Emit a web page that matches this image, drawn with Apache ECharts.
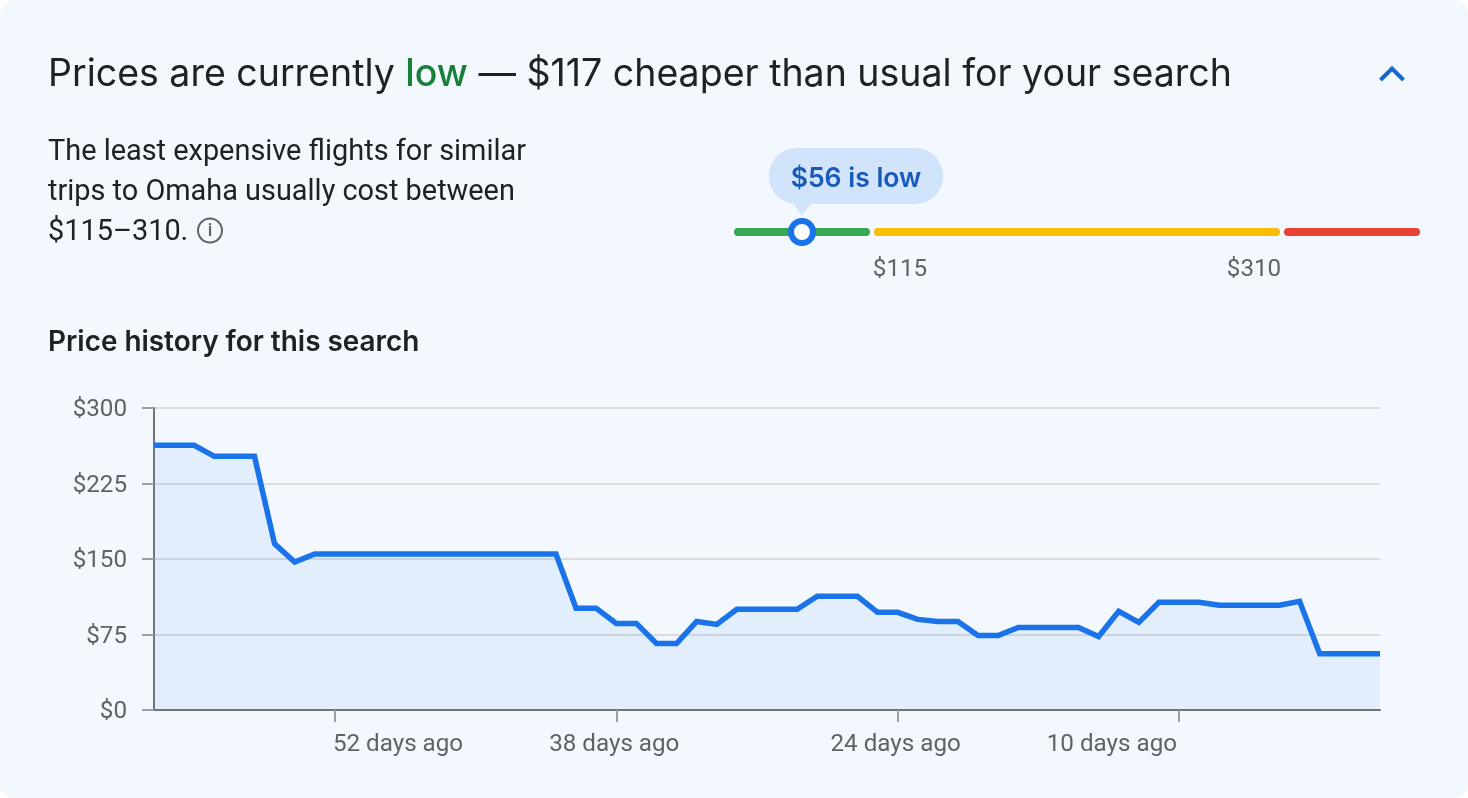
<!DOCTYPE html>
<html lang="en">
<head>
<meta charset="utf-8" />
<style>
    html, body { margin: 0; padding: 0; background: #ffffff; }
    #card { width: 1468px; height: 798px; background: #f3f8fe; border-radius: 14px; }
</style>
</head>
<body>

<div id="card"></div>

<script src="https://cdn.jsdelivr.net/npm/echarts@6/dist/echarts.min.js"></script>
<script>
    // price per day, oldest first (61 days ago ... today)
    var prices = [263, 263, 263, 252, 252, 252, 165, 147, 155, 155,
        155, 155, 155, 155, 155, 155, 155, 155, 155, 155,
        155, 101, 101, 86, 86, 66, 66, 88, 85, 100,
        100, 100, 100, 113, 113, 113, 97, 97, 90, 88,
        88, 74, 74, 82, 82, 82, 82, 73, 98, 87,
        107, 107, 107, 104, 104, 104, 104, 108, 56, 56,
        56, 56];
    var daysAgoLabels = {52: "52 days ago", 38: "38 days ago", 24: "24 days ago", 10: "10 days ago"};
    var daysAgoAlign = {52: "left", 38: "center", 24: "center", 10: "right"};
    var daysAgoPad = {52: [0, 0, 0, -2], 38: [0, 4, 0, 0], 24: [0, 4, 0, 0], 10: [0, 2, 0, 0]};
    var yTicks = {min: 0, max: 300, step: 75};

    // the range bar is not linear in price, so these are track units
    var trackLength = 686;
    var lowBand = [0, 136];
    var typicalBand = [140, 546];
    var highBand = [550, 686];
    var currentPos = 68;
    var bandLabels = [{pos: 138, text: "$115", shift: 28}, {pos: 548, text: "$310", shift: -28}];

    var categories = prices.map(function(p, i){ return 61 - i; });

    var FONT = "Roboto";
    var HEAD = "Inter";

    function bandSeries(band, color){
        return {
            type: "line", xAxisIndex: 1, yAxisIndex: 1, silent: true, symbol: "none",
            lineStyle: {color: color, width: 8, cap: "round"},
            data: [[band[0] + 4, 0], [band[1] - 4, 0]]
        };
    }

    var option = {
        animation: false,
        backgroundColor: "transparent",
        title: [
            {
                left: 48, top: 56, padding: 0,
                text: "Prices are currently {low|low} — $117 cheaper than usual for your search",
                textStyle: {
                    fontFamily: HEAD, fontSize: 37.5, fontWeight: 400, color: "#202124",
                    rich: {low: {fontFamily: HEAD, fontSize: 37.5, fontWeight: 500, color: "#188038"}}
                }
            },
            {
                left: 48, top: 133, padding: 0,
                text: "The least expensive flights for similar\ntrips to Omaha usually cost between\n$115–310.",
                textStyle: {fontFamily: FONT, fontSize: 28.9, fontWeight: 400, color: "#202124", lineHeight: 40}
            },
            {
                left: 48, top: 329, padding: 0,
                text: "Price history for this search",
                textStyle: {fontFamily: HEAD, fontSize: 27.9, fontWeight: 600, color: "#202124"}
            }
        ],
        grid: [
            {left: 154, top: 408, width: 1226, height: 302},
            {left: 734, top: 212, width: trackLength, height: 40}
        ],
        xAxis: [
            {
                type: "category", gridIndex: 0, boundaryGap: false,
                data: categories.map(function(d){
                    return {value: d, textStyle: {align: daysAgoAlign[d] || "center", padding: daysAgoPad[d] || 0}};
                }),
                axisLine: {lineStyle: {color: "#70757a", width: 2}},
                axisTick: {
                    length: 12, lineStyle: {color: "#9aa0a6", width: 2},
                    interval: function(i, v){ return daysAgoLabels[v] !== undefined; }
                },
                axisLabel: {
                    interval: function(i, v){ return daysAgoLabels[v] !== undefined; },
                    formatter: function(v){ return daysAgoLabels[v] || ""; },
                    margin: 23, fontFamily: FONT, fontSize: 24.2, color: "#5f6368", hideOverlap: false
                },
                splitLine: {show: false}
            },
            {
                type: "value", gridIndex: 1, min: 0, max: trackLength, show: false
            }
        ],
        yAxis: [
            {
                type: "value", gridIndex: 0, min: yTicks.min, max: yTicks.max, interval: yTicks.step,
                axisLine: {show: true, lineStyle: {color: "#70757a", width: 2}},
                axisTick: {show: true, length: 12, lineStyle: {color: "#9aa0a6", width: 2}},
                axisLabel: {
                    margin: 27,
                    formatter: function(v){ return "{v|$" + v + "}"; },
                    rich: {v: {fontFamily: FONT, fontSize: 24.2, color: "#5f6368", padding: [4, 0, 0, 0]}}
                },
                splitLine: {show: true, lineStyle: {color: "#dadce0", width: 2}}
            },
            {
                type: "value", gridIndex: 1, min: -20, max: 20, show: false, inverse: true
            }
        ],
        series: [
            {
                type: "line", xAxisIndex: 0, yAxisIndex: 0, data: prices, symbol: "none", silent: true,
                lineStyle: {color: "#1a73e8", width: 5.5, join: "miter"},
                areaStyle: {color: "rgba(26,115,232,0.1)"}
            },
            bandSeries(lowBand, "#34a853"),
            bandSeries(typicalBand, "#fbbc04"),
            bandSeries(highBand, "#ea4335"),
            {
                // band limit labels under the track
                type: "scatter", xAxisIndex: 1, yAxisIndex: 1, silent: true,
                symbol: "circle", symbolSize: 1, itemStyle: {opacity: 0},
                data: bandLabels.map(function(b){
                    return {value: [b.pos, 0], name: b.text, label: {offset: [b.shift, 0]}};
                }),
                label: {
                    show: true, position: "bottom", distance: 25, opacity: 1,
                    formatter: "{b}", fontFamily: FONT, fontSize: 24.2, color: "#5f6368"
                }
            },
            {
                // pointer of the bubble
                type: "scatter", xAxisIndex: 1, yAxisIndex: 1, silent: true, z: 3,
                symbol: "triangle", symbolSize: [17, 12], symbolRotate: 180, symbolOffset: [0, -22],
                itemStyle: {color: "#d2e3fc", opacity: 1},
                data: [[currentPos, 0]]
            },
            {
                type: "scatter", xAxisIndex: 1, yAxisIndex: 1, silent: true, z: 4,
                symbol: "circle", symbolSize: 22,
                itemStyle: {color: "#ffffff", borderColor: "#1a73e8", borderWidth: 6, opacity: 1},
                data: [[currentPos, 0]],
                label: {
                    show: true, position: "top", distance: 14, offset: [54, 0], opacity: 1,
                    formatter: "{t|$56 is low}",
                    rich: {t: {fontFamily: HEAD, fontSize: 26.5, fontWeight: 600, color: "#185abc", padding: [4, 0, 0, 0]}},
                    backgroundColor: "#d2e3fc", borderRadius: 28,
                    padding: [14, 22, 11, 22]
                }
            }
        ],
        graphic: [
            {
                // collapse chevron
                type: "polyline", silent: true,
                shape: {points: [[1380.5, 80], [1392, 68.5], [1403.5, 80]]},
                style: {stroke: "#1967d2", lineWidth: 4, fill: null}
            },
            {
                // info icon after the range text
                type: "circle", silent: true,
                shape: {cx: 210, cy: 230.5, r: 12},
                style: {stroke: "#5f6368", lineWidth: 2, fill: null}
            },
            {
                type: "text", silent: true, x: 210, y: 231,
                style: {text: "i", fontFamily: FONT, fontSize: 18, fontWeight: 500, fill: "#5f6368", align: "center", verticalAlign: "middle"}
            }
        ]
    };

    window.onload = function(){
        var myChart = echarts.init(document.getElementById("card"));
        myChart.setOption(option);
    };
</script>
</body>
</html>
